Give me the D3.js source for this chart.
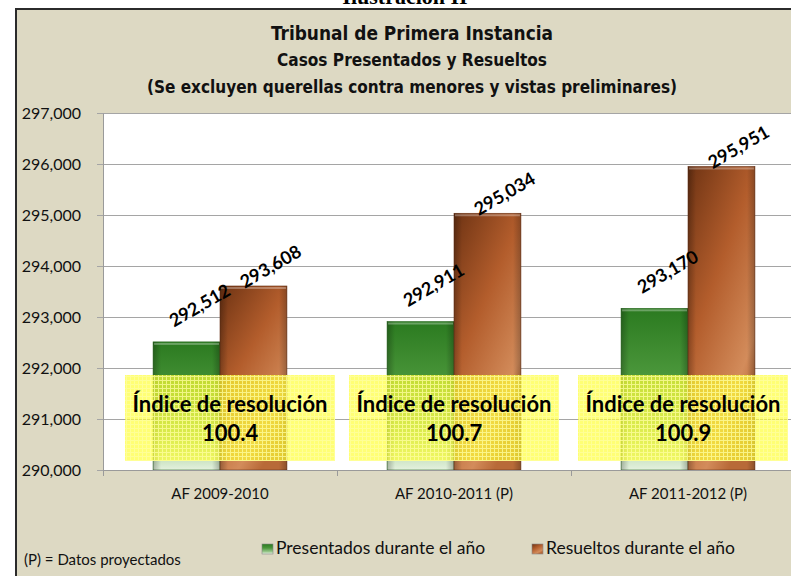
<!DOCTYPE html>
<html lang="es">
<head>
<meta charset="UTF-8">
<title>Tribunal de Primera Instancia</title>
<script src="https://d3js.org/d3.v7.min.js"></script>
<style>
  html, body { margin: 0; padding: 0; background: #fff; overflow: hidden; }
  svg { display: block; }
</style>
</head>
<body>
<div id="chart"></div>
<script>
  // data
  const categories = ["AF 2009-2010", "AF 2010-2011 (P)", "AF 2011-2012 (P)"];
  const seriesNames = ["Presentados durante el año", "Resueltos durante el año"];
  const presentados = [292512, 292911, 293170];
  const resueltos = [293608, 295034, 295951];
  const indices = ["100.4", "100.7", "100.9"];
  const yTicks = [290000, 291000, 292000, 293000, 294000, 295000, 296000, 297000];
  const titleLines = [
    "Tribunal de Primera Instancia",
    "Casos Presentados y Resueltos",
    "(Se excluyen querellas contra menores y vistas preliminares)"
  ];

  const W = 791, H = 576;
  const frame = { left: 16, top: 9, right: 808 };
  const plot = { left: 103, top: 113, right: 806, bottom: 470 };
  const bg = "#ddd9c3";
  const sans = "Lato, 'Open Sans', 'DejaVu Sans', sans-serif";
  const cond = "'Liberation Sans Narrow', 'DejaVu Sans Condensed', 'DejaVu Sans', sans-serif";

  const svg = d3.select("#chart").append("svg").attr("width", W).attr("height", H);
  const defs = svg.append("defs");

  // gradients for the bevelled Excel bars
  const gGreen = defs.append("linearGradient").attr("id", "green").attr("x1", 0).attr("y1", 0).attr("x2", 0).attr("y2", 1);
  gGreen.append("stop").attr("offset", "0%").attr("stop-color", "#2b7a20");
  gGreen.append("stop").attr("offset", "40%").attr("stop-color", "#4a963a");
  gGreen.append("stop").attr("offset", "75%").attr("stop-color", "#93c486");
  gGreen.append("stop").attr("offset", "100%").attr("stop-color", "#e4f1de");

  const gBrown = defs.append("linearGradient").attr("id", "brown").attr("x1", 0).attr("y1", 0).attr("x2", 0.6).attr("y2", 1);
  gBrown.append("stop").attr("offset", "0%").attr("stop-color", "#6e3313");
  gBrown.append("stop").attr("offset", "45%").attr("stop-color", "#b35d2c");
  gBrown.append("stop").attr("offset", "85%").attr("stop-color", "#d38c5b");
  gBrown.append("stop").attr("offset", "100%").attr("stop-color", "#b86a38");

  const gShade = defs.append("linearGradient").attr("id", "shade").attr("x1", 0).attr("y1", 0).attr("x2", 1).attr("y2", 0);
  gShade.append("stop").attr("offset", "0%").attr("stop-color", "#000").attr("stop-opacity", 0.25);
  gShade.append("stop").attr("offset", "12%").attr("stop-color", "#000").attr("stop-opacity", 0);
  gShade.append("stop").attr("offset", "88%").attr("stop-color", "#000").attr("stop-opacity", 0);
  gShade.append("stop").attr("offset", "100%").attr("stop-color", "#000").attr("stop-opacity", 0.25);

  const pat = defs.append("pattern").attr("id", "grid").attr("width", 4).attr("height", 4).attr("patternUnits", "userSpaceOnUse");
  pat.append("rect").attr("width", 4).attr("height", 4).attr("fill", "#ffff33").attr("opacity", 0.68);
  pat.append("path").attr("d", "M0,0.5H4M0.5,0V4").attr("stroke", "#ffffa0").attr("stroke-width", 1).attr("opacity", 0.75);

  // header caption cut off at the top
  svg.append("text").attr("x", 405).attr("y", 4).attr("text-anchor", "middle")
    .attr("font-family", "'Liberation Serif', serif").attr("font-weight", "bold").attr("font-size", 22)
    .text("Ilustración II");

  // chart area
  svg.append("rect").attr("x", frame.left).attr("y", frame.top)
    .attr("width", frame.right - frame.left).attr("height", H)
    .attr("fill", bg).attr("stroke", "#2b2b2b").attr("stroke-width", 2);

  svg.append("rect").attr("x", plot.left).attr("y", plot.top)
    .attr("width", plot.right - plot.left).attr("height", plot.bottom - plot.top).attr("fill", "#fff");

  // title
  const titleY = [40, 66, 93];
  const titleSize = [20, 18, 18];
  const titleLen = [282, 270, 530];
  svg.selectAll(".title").data(titleLines).enter().append("text")
    .attr("class", "title")
    .attr("x", 412).attr("y", (d, i) => titleY[i])
    .attr("text-anchor", "middle")
    .attr("font-family", cond).attr("font-weight", "bold")
    .attr("font-size", (d, i) => titleSize[i])
    .attr("textLength", (d, i) => titleLen[i]).attr("lengthAdjust", "spacingAndGlyphs")
    .attr("fill", "#111")
    .text(d => d);

  // scales
  const y = d3.scaleLinear().domain([290000, 297000]).range([plot.bottom, plot.top]);
  const x0 = d3.scaleBand().domain(categories).range([plot.left, plot.left + 234 * 3]);
  const x1 = d3.scaleBand().domain(seriesNames)
    .range([x0.bandwidth() * 0.214, x0.bandwidth() * 0.786]);

  // gridlines
  svg.append("g").selectAll("line").data(yTicks).enter().append("line")
    .attr("x1", plot.left - 6).attr("x2", plot.right)
    .attr("y1", d => Math.round(y(d)) + 0.5).attr("y2", d => Math.round(y(d)) + 0.5)
    .attr("stroke", "#a5a5a5").attr("stroke-width", 1);

  // y axis
  const yAxis = svg.append("g").attr("transform", `translate(${plot.left},0)`)
    .call(d3.axisLeft(y).tickValues(yTicks).tickSize(0).tickPadding(22).tickFormat(d3.format(",")));
  yAxis.select(".domain").attr("stroke", "#9a9a9a");
  yAxis.selectAll("text").attr("font-family", sans).attr("font-size", 16).attr("fill", "#111");

  // bars
  const rows = categories.map((c, i) => ({ cat: c, vals: [presentados[i], resueltos[i]] }));
  const groups = svg.append("g").selectAll("g").data(rows).enter().append("g")
    .attr("transform", d => `translate(${x0(d.cat)},0)`);

  const fills = ["url(#green)", "url(#brown)"];
  const edges = ["#2c6a22", "#6a3418"];
  groups.each(function (d) {
    const g = d3.select(this);
    d.vals.forEach((v, j) => {
      const bx = x1(seriesNames[j]), bw = x1.bandwidth(), by = y(v), bh = plot.bottom - y(v);
      g.append("rect").attr("x", bx).attr("y", by).attr("width", bw).attr("height", bh)
        .attr("fill", fills[j]).attr("stroke", edges[j]).attr("stroke-width", 0.6);
      g.append("rect").attr("x", bx).attr("y", by).attr("width", bw).attr("height", bh)
        .attr("fill", "url(#shade)");
      g.append("rect").attr("x", bx + 1).attr("y", by + 1).attr("width", bw - 2).attr("height", 2)
        .attr("fill", "#fff").attr("opacity", 0.3);
    });
  });

  // x axis
  const xAxis = svg.append("g").attr("transform", `translate(0,${plot.bottom})`);
  xAxis.append("line").attr("x1", plot.left).attr("x2", plot.right).attr("y1", 0.5).attr("y2", 0.5)
    .attr("stroke", "#9a9a9a");
  xAxis.selectAll(".tk").data(categories).enter().append("line")
    .attr("x1", d => Math.round(x0(d)) + 0.5).attr("x2", d => Math.round(x0(d)) + 0.5)
    .attr("y1", 0).attr("y2", 6).attr("stroke", "#9a9a9a");
  xAxis.selectAll(".lbl").data(categories).enter().append("text")
    .attr("x", d => x0(d) + x0.bandwidth() / 2).attr("y", 29)
    .attr("text-anchor", "middle").attr("font-family", sans).attr("font-size", 15).attr("fill", "#111")
    .text(d => d);

  // value labels (rotated)
  const labOff = [[14, -35], [18, -18]];
  groups.each(function (d) {
    const g = d3.select(this);
    d.vals.forEach((v, j) => {
      const cx = x1(seriesNames[j]) + x1.bandwidth() / 2 + labOff[j][0];
      const cy = y(v) + labOff[j][1];
      g.append("text")
        .attr("transform", `translate(${cx},${cy}) rotate(-30)`)
        .attr("text-anchor", "middle").attr("dominant-baseline", "middle")
        .attr("font-family", sans).attr("font-weight", "bold").attr("font-size", 18).attr("fill", "#000")
        .text(d3.format(",")(v));
    });
  });

  // yellow annotation boxes
  const boxOff = [10, 0, -5];
  const boxes = svg.append("g").selectAll("g").data(categories).enter().append("g")
    .attr("transform", (d, i) => `translate(${x0(d) + x0.bandwidth() / 2 + boxOff[i]},0)`);
  boxes.append("rect").attr("x", -105).attr("y", 375).attr("width", 210).attr("height", 86)
    .attr("fill", "url(#grid)");
  boxes.append("text").attr("x", 0).attr("y", 412).attr("text-anchor", "middle")
    .attr("font-family", sans).attr("font-weight", "bold").attr("font-size", 22).attr("fill", "#000")
    .text("Índice de resolución");
  boxes.append("text").attr("x", 0).attr("y", 441).attr("text-anchor", "middle")
    .attr("font-family", sans).attr("font-weight", "bold").attr("font-size", 22).attr("fill", "#000")
    .text((d, i) => indices[i]);

  // legend
  const legX = [262, 532];
  const leg = svg.append("g").selectAll("g").data(seriesNames).enter().append("g")
    .attr("transform", (d, i) => `translate(${legX[i]},544)`);
  leg.append("rect").attr("width", 11).attr("height", 10)
    .attr("fill", (d, i) => fills[i]).attr("stroke", "#888").attr("stroke-width", 0.6);
  leg.append("text").attr("x", 14).attr("y", 10)
    .attr("font-family", sans).attr("font-size", 17.5).attr("fill", "#111")
    .text(d => d);

  svg.append("text").attr("x", 24).attr("y", 565)
    .attr("font-family", sans).attr("font-size", 15).attr("fill", "#111")
    .text("(P) = Datos proyectados");
</script>
</body>
</html>
